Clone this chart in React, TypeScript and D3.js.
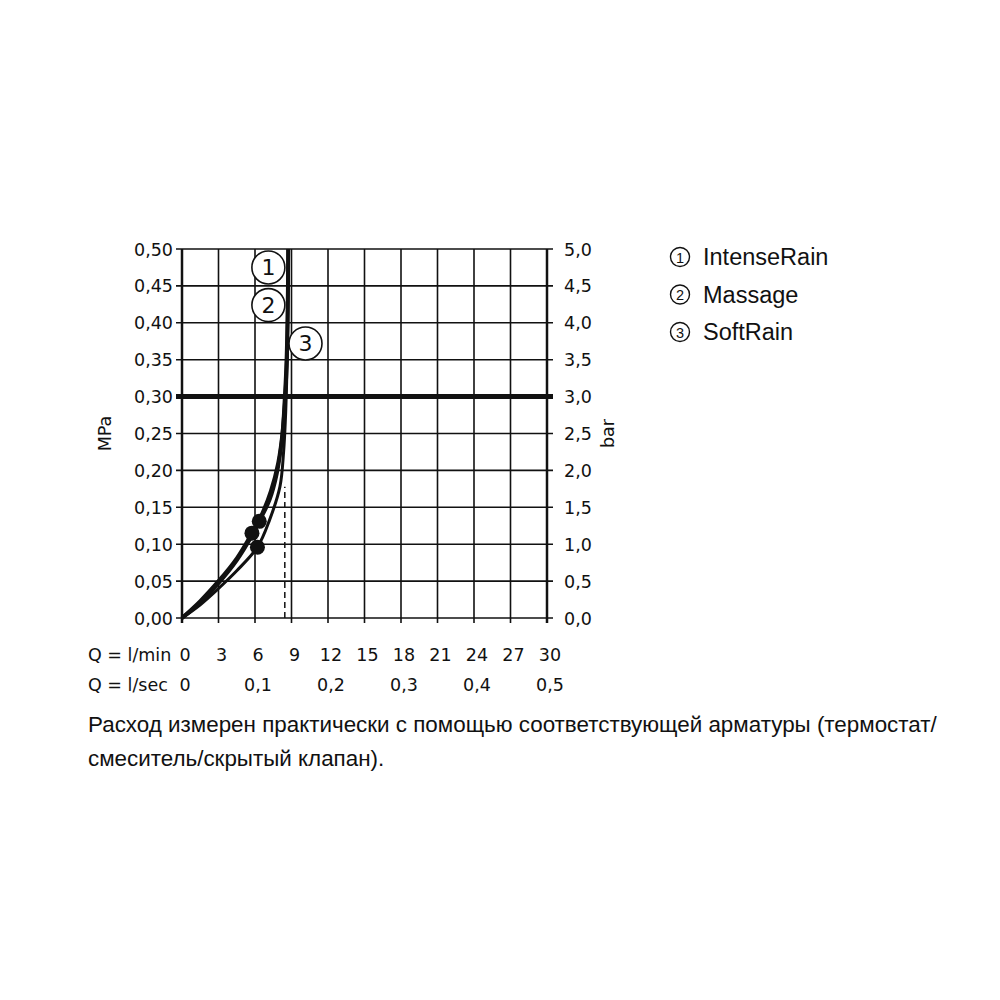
import React from "react";
import * as d3 from "d3";

// Flow in l/min, pressure in MPa
const intenseRain: [number, number][] = [
  [0, 0], [1.5, 0.021], [3, 0.047], [4.5, 0.078], [5.8, 0.113], [6.35, 0.131],
  [7.2, 0.16], [7.8, 0.196], [8.2, 0.24], [8.45, 0.29], [8.6, 0.34], [8.69, 0.4], [8.73, 0.5],
];
const massage: [number, number][] = [
  [0, 0], [1.5, 0.023], [3, 0.05], [4.5, 0.081], [5.75, 0.115], [6.6, 0.142],
  [7.3, 0.172], [7.9, 0.21], [8.25, 0.25], [8.45, 0.3], [8.59, 0.35], [8.68, 0.42], [8.73, 0.5],
];
const softRain: [number, number][] = [
  [0, 0], [1.5, 0.018], [3, 0.04], [4.5, 0.064], [6.2, 0.096], [7.2, 0.133],
  [8.05, 0.178], [8.35, 0.225], [8.5, 0.27], [8.6, 0.32], [8.68, 0.38],
];
const markerPoints: [number, number][] = [[6.35, 0.131], [5.75, 0.115], [6.2, 0.096]];
const labelPoints: [number, number, string][] = [[7.1, 0.475, "1"], [7.1, 0.424, "2"], [10.15, 0.372, "3"]];
const limiterFlow = 8.45;
const limiterTop = 0.178;
const refPressure = 0.3;

const pressureTicks = [0, 0.05, 0.1, 0.15, 0.2, 0.25, 0.3, 0.35, 0.4, 0.45, 0.5];
const flowTicks = [0, 3, 6, 9, 12, 15, 18, 21, 24, 27, 30];
const secTicks = [0, 0.1, 0.2, 0.3, 0.4, 0.5];
const legendItems = ["IntenseRain", "Massage", "SoftRain"];
const legendNums = ["1", "2", "3"];
const noteLines = [
  "Расход измерен практически с помощью соответствующей арматуры (термостат/",
  "смеситель/скрытый клапан).",
];

export default function App() {
  const x = d3.scaleLinear().domain([0, 30]).range([182, 547]);
  const y = d3.scaleLinear().domain([0, 0.5]).range([618, 249]);
  const line = d3
    .line<[number, number]>()
    .x((d) => x(d[0]))
    .y((d) => y(d[1]))
    .curve(d3.curveCatmullRom.alpha(0.5));
  const fmt = (v: number, n: number) => v.toFixed(n).replace(".", ",");
  const axisFont = "DejaVu Sans";
  const fs = 17.5;
  const x0 = x(0), x1 = x(30), y0 = y(0), y1 = y(0.5);

  return (
    <svg width={1000} height={1000} style={{ position: "absolute", left: 0, top: 0, background: "#fff" }}>
      <rect width={1000} height={1000} fill="#fff" />
      {/* grid */}
      {flowTicks.map((t) => (
        <line key={"vx" + t} x1={x(t)} x2={x(t)} y1={y1} y2={y0 + 5} stroke="#111" strokeWidth={t === 0 || t === 30 ? 2.5 : 1.6} />
      ))}
      {pressureTicks.map((t) => (
        <line key={"hy" + t} x1={x0 - 6} x2={x1 + 6} y1={y(t)} y2={y(t)} stroke="#111" strokeWidth={1.6} />
      ))}
      <line x1={x0 - 6} x2={x1 + 6} y1={y(refPressure)} y2={y(refPressure)} stroke="#111" strokeWidth={5} />
      {/* dashed limiter line */}
      <line x1={x(limiterFlow)} x2={x(limiterFlow)} y1={y(0)} y2={y(limiterTop)} stroke="#111" strokeWidth={1.5} strokeDasharray="6,4" />
      {/* curves */}
      <path d={line(softRain) || ""} fill="none" stroke="#111" strokeWidth={3} />
      <path d={line(massage) || ""} fill="none" stroke="#111" strokeWidth={3.8} />
      <path d={line(intenseRain) || ""} fill="none" stroke="#111" strokeWidth={3.8} />
      {markerPoints.map((p, i) => (
        <circle key={"m" + i} cx={x(p[0])} cy={y(p[1])} r={7.5} fill="#111" />
      ))}
      {labelPoints.map((p, i) => (
        <g key={"l" + i}>
          <circle cx={x(p[0])} cy={y(p[1])} r={16.5} fill="#fff" stroke="#111" strokeWidth={1.6} />
          <text x={x(p[0])} y={y(p[1]) + 8} textAnchor="middle" fontFamily={axisFont} fontSize={22} fill="#111">{p[2]}</text>
        </g>
      ))}
      {/* axis labels */}
      {pressureTicks.map((t) => (
        <text key={"ly" + t} x={x0 - 9} y={y(t) + 6.5} textAnchor="end" fontFamily={axisFont} fontSize={fs} fill="#111">{fmt(t, 2)}</text>
      ))}
      {pressureTicks.map((t) => (
        <text key={"ry" + t} x={x1 + 17} y={y(t) + 6.5} textAnchor="start" fontFamily={axisFont} fontSize={fs} fill="#111">{fmt(t * 10, 1)}</text>
      ))}
      <text transform={`translate(111,${y(0.25)}) rotate(-90)`} textAnchor="middle" fontFamily={axisFont} fontSize={fs} fill="#111">MPa</text>
      <text transform={`translate(614,${y(0.25)}) rotate(-90)`} textAnchor="middle" fontFamily={axisFont} fontSize={fs} fill="#111">bar</text>
      <text x={88} y={661} fontFamily={axisFont} fontSize={fs} fill="#111">Q = l/min</text>
      <text x={88} y={691} fontFamily={axisFont} fontSize={fs} fill="#111">Q = l/sec</text>
      {flowTicks.map((t) => (
        <text key={"bx" + t} x={x(t) + 3} y={661} textAnchor="middle" fontFamily={axisFont} fontSize={fs} fill="#111">{t}</text>
      ))}
      {secTicks.map((t) => (
        <text key={"sx" + t} x={x(t * 60) + 3} y={691} textAnchor="middle" fontFamily={axisFont} fontSize={fs} fill="#111">{t === 0 ? "0" : fmt(t, 1)}</text>
      ))}
      {/* legend */}
      {legendItems.map((s, i) => (
        <g key={"lg" + i}>
          <circle cx={680} cy={257 + i * 37.5} r={9.5} fill="none" stroke="#111" strokeWidth={1.4} />
          <text x={680} y={262.5 + i * 37.5} textAnchor="middle" fontFamily="Liberation Sans" fontSize={14.5} fill="#111">{legendNums[i]}</text>
          <text x={703} y={265 + i * 37.5} fontFamily="Liberation Sans" fontSize={23.5} fill="#111">{s}</text>
        </g>
      ))}
      {/* note */}
      {noteLines.map((s, i) => (
        <text key={"n" + i} x={88} y={732 + i * 34} fontFamily="Liberation Sans" fontSize={22.4} fill="#111">{s}</text>
      ))}
    </svg>
  );
}
